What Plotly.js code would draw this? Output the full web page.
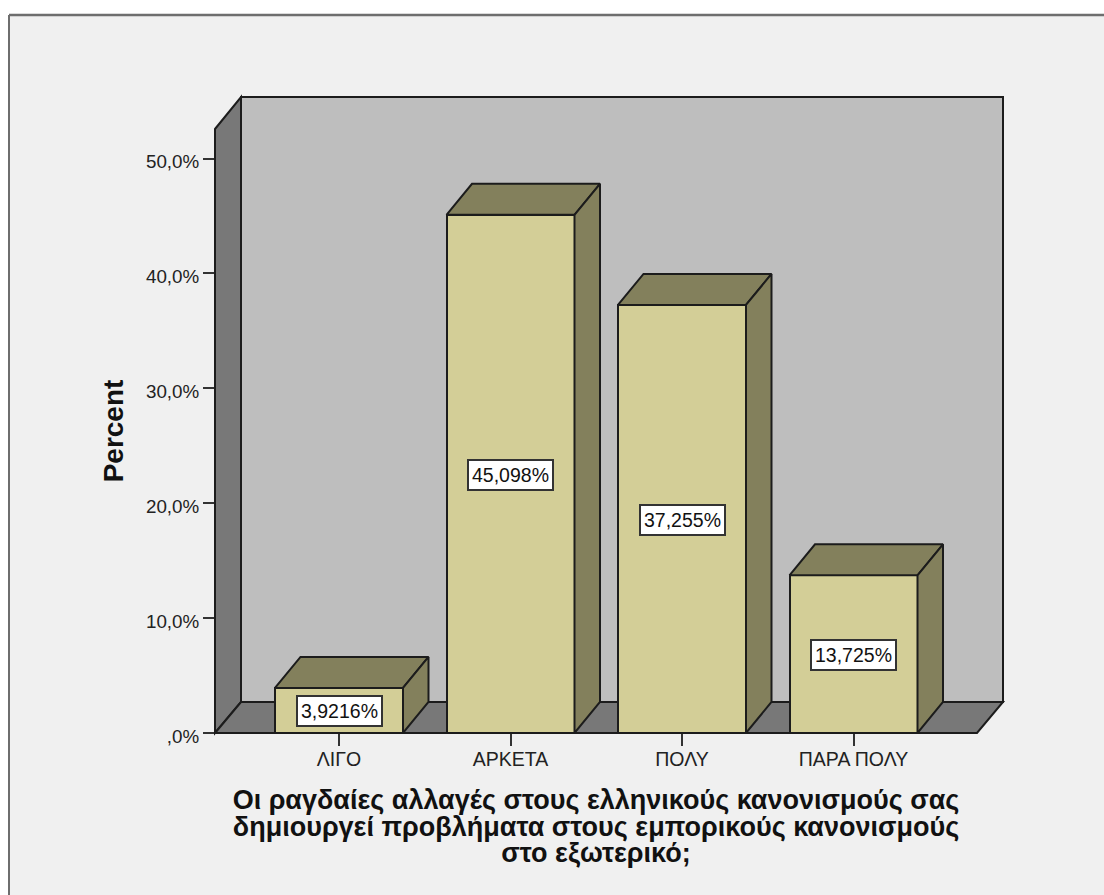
<!DOCTYPE html>
<html>
<head>
<meta charset="utf-8">
<script src="https://cdn.plot.ly/plotly-3.0.1.min.js"></script>
<style>html,body{margin:0;padding:0;background:#fff;overflow:hidden}</style>
</head>
<body>
<div id="chart" style="width:1104px;height:895px"></div>
<script>
const categories = ["ΛΙΓΟ", "ΑΡΚΕΤΑ", "ΠΟΛΥ", "ΠΑΡΑ ΠΟΛΥ"];
const values = [3.9216, 45.098, 37.255, 13.725];
const valueLabels = ["3,9216%", "45,098%", "37,255%", "13,725%"];
const yTickVals = [0, 10, 20, 30, 40, 50];
const yTickText = [",0%", "10,0%", "20,0%", "30,0%", "40,0%", "50,0%"];
const xTitleLines = ["Οι ραγδαίες αλλαγές στους ελληνικούς κανονισμούς σας", "δημιουργεί προβλήματα στους εμπορικούς κανονισμούς", "στο εξωτερικό;"];
const yTitle = "Percent";

const W = 1104, H = 895;
const L = 215, R = 977, T = 129, B = 733;
const pw = R - L, ph = B - T;
const pxPerCat = 171.5, pxPerUnit = 11.49, cat0 = 339;
const xRange = [(L - cat0) / pxPerCat, (R - cat0) / pxPerCat];
const yRange = [0, ph / pxPerUnit];
const barWidth = 128 / pxPerCat;
const depthX = 25.5 / pxPerCat, depthY = 31 / pxPerUnit;
const ink = "#1c1c1c", faceCol = "#d3ce97", shadeCol = "#83805c";
const wallDark = "#787878", wallBack = "#bebebe", panel = "#f0f0f0", frame = "#6e6e6e";
const xs = categories.map((_, i) => i);

const fx = p => (p - L) / pw, fy = p => (B - p) / ph;
const poly = pts => "M" + pts.map(p => fx(p[0]) + "," + fy(p[1])).join("L") + "Z";
const wall = (pts, col, lw) => ({type: "path", xref: "paper", yref: "paper", layer: "below",
  path: poly(pts), fillcolor: col, line: {color: lw ? ink : col, width: lw}});
const shapes = [
  wall([[9, 15], [W + 5, 15], [W + 5, H + 5], [9, H + 5]], panel, 0),
  {type: "line", xref: "paper", yref: "paper", layer: "below", x0: fx(9), x1: fx(W + 5), y0: fy(15), y1: fy(15), line: {color: frame, width: 2.5}},
  {type: "line", xref: "paper", yref: "paper", layer: "below", x0: fx(9), x1: fx(9), y0: fy(15), y1: fy(H + 5), line: {color: frame, width: 2}},
  wall([[241, 97], [1003, 97], [1003, 702], [241, 702]], wallBack, 2),
  wall([[215, 129], [241, 97], [241, 702], [215, 733]], wallDark, 2),
  wall([[215, 733], [241, 702], [1003, 702], [977, 733]], wallDark, 2)
];

const faceTrace = (xp, yp) => ({type: "scatter", mode: "lines", x: xp, y: yp, fill: "toself",
  fillcolor: shadeCol, line: {color: ink, width: 2}, cliponaxis: false, hoverinfo: "skip", showlegend: false});
const traces = [{
  type: "bar", x: xs, y: values, width: barWidth, cliponaxis: false,
  marker: {color: faceCol, line: {color: ink, width: 2}}, hoverinfo: "x+y", showlegend: false
}];
xs.forEach((x, i) => {
  const a = x - barWidth / 2, b = x + barWidth / 2, v = values[i];
  traces.push(faceTrace([a, a + depthX, b + depthX, b, a], [v, v + depthY, v + depthY, v, v]));
  traces.push(faceTrace([b, b + depthX, b + depthX, b, b], [0, depthY, v + depthY, v, 0]));
});

const annotations = xs.map((x, i) => ({
  x: x, y: values[i] / 2, xref: "x", yref: "y", yshift: -1, text: valueLabels[i], showarrow: false,
  font: {family: "Liberation Sans", size: 19.5, color: "#111"},
  bgcolor: "#ffffff", bordercolor: "#333333", borderwidth: 2, borderpad: 3
}));

const xTitleText = xTitleLines.map(s => '<span style="font-size:27px">' + s + '</span>').join("<br>");

Plotly.newPlot("chart", traces, {
  width: W, height: H, autosize: false,
  margin: {l: L, r: W - R, t: T, b: H - B, pad: 0},
  paper_bgcolor: "#ffffff", plot_bgcolor: "rgba(0,0,0,0)",
  font: {family: "Liberation Sans", color: "#222"},
  showlegend: false, bargap: 0,
  xaxis: {range: xRange, tickmode: "array", tickvals: xs, ticktext: categories,
    ticks: "outside", ticklen: 12, tickwidth: 2, tickcolor: "#333", showgrid: false, zeroline: false, showline: false,
    tickfont: {size: 19.5, color: "#222"}, tickangle: 0, ticklabelstandoff: -3,
    title: {text: xTitleText, standoff: 25, font: {size: 20.4, color: "#111", weight: "bold"}}},
  yaxis: {range: yRange, tickmode: "array", tickvals: yTickVals, ticktext: yTickText,
    ticks: "outside", ticklen: 11, tickwidth: 2, tickcolor: "#333", showgrid: false, zeroline: false, showline: false,
    tickfont: {size: 18.8, color: "#222"}, ticklabelshift: 3,
    title: {text: yTitle, standoff: 14, font: {size: 28, color: "#111", weight: "bold"}}},
  shapes: shapes, annotations: annotations
}, {displayModeBar: false, responsive: false});
</script>
</body>
</html>
